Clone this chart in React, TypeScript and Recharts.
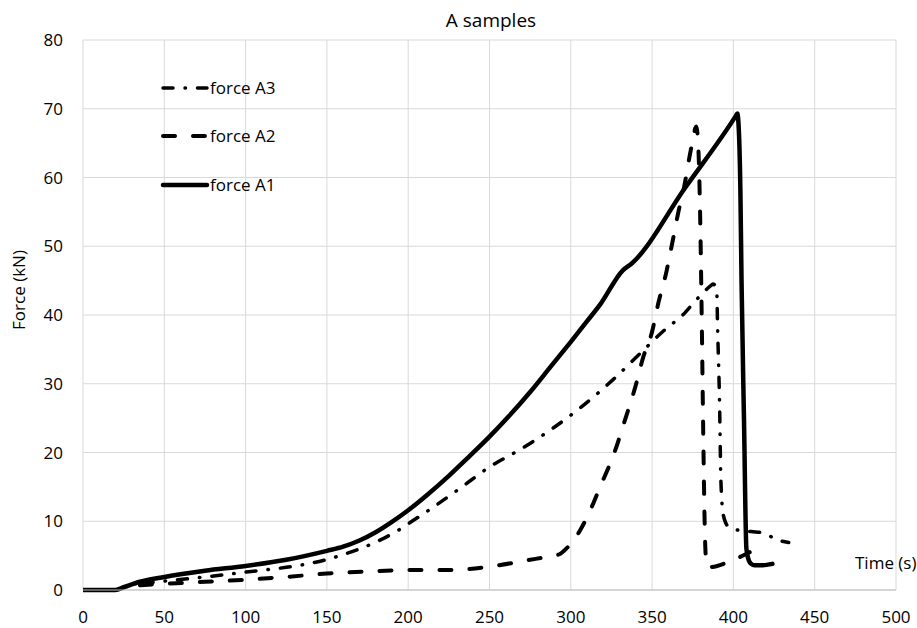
import { LineChart, Line, XAxis, YAxis, CartesianGrid } from 'recharts';

const timeTicks = [0, 50, 100, 150, 200, 250, 300, 350, 400, 450, 500];
const forceTicks = [0, 10, 20, 30, 40, 50, 60, 70, 80];

// force A1 (solid)
const a1Time = [0, 20, 25, 35, 50, 75, 100, 125, 150, 160, 170, 180, 190, 200, 212, 225, 237, 250, 262, 275, 287, 300, 310, 318, 332, 337.5, 370, 401.6, 402.4, 403.5, 404.3, 405, 406.5, 408, 409.5, 411, 413, 418, 424];
const a1Force = [0, 0, 0.4, 1.2, 1.9, 2.8, 3.5, 4.4, 5.7, 6.3, 7.2, 8.4, 9.9, 11.6, 13.9, 16.6, 19.3, 22.3, 25.3, 28.8, 32.3, 36.1, 39.1, 41.5, 46.5, 47.5, 58.4, 69.0, 69.3, 66, 58, 45, 25, 6, 4.3, 3.8, 3.6, 3.6, 3.8];

// force A2 (dashed)
const a2Time = [35, 50, 75, 100, 125, 150, 175, 200, 225, 250, 275, 285, 293, 298, 302, 306, 310, 314, 318, 323, 327, 333, 339.5, 344.6, 349.7, 353.8, 359, 362, 366, 370, 373, 375.5, 376.6, 377.2, 378.5, 379.5, 380.5, 381.5, 382.3, 383, 384.5, 390, 396, 404, 410];
const a2Force = [0.7, 0.9, 1.2, 1.5, 1.9, 2.4, 2.7, 2.9, 2.9, 3.4, 4.4, 4.8, 5.2, 6.2, 7.3, 8.8, 10.6, 12.7, 15.0, 17.7, 20.1, 24.5, 29.4, 33.9, 37.3, 41.7, 46.5, 50, 54.8, 59, 63, 66, 67.2, 67.4, 64, 55, 40, 22, 10, 5, 3.3, 3.5, 4.0, 4.8, 5.5];

// force A3 (dash-dot)
const a3Time = [37, 50, 75, 100, 125, 133.5, 151, 162, 172.6, 183, 193.3, 203, 212.6, 231.3, 250, 270, 289.4, 307.9, 326, 342.6, 359.5, 368, 376.4, 382, 386.8, 387.5, 389.7, 390.3, 391.5, 392.3, 393.8, 397, 403, 411, 419, 425, 434];
const a3Force = [1.0, 1.3, 1.9, 2.6, 3.3, 3.6, 4.5, 5.3, 6.2, 7.3, 8.6, 10.1, 11.6, 14.7, 17.9, 20.6, 23.6, 26.9, 30.6, 34.4, 38.2, 39.8, 42.0, 43.4, 44.4, 44.5, 43.8, 38, 27, 16, 10.9, 9.2, 8.7, 8.5, 8.3, 7.5, 6.9];

const toPoints = (t: number[], f: number[]) => t.map((x, i) => ({ t: x, f: f[i] }));

const FONT = '"Open Sans", sans-serif';

const legendItems = [
  { name: 'force A3', dash: '10 12 0.5 12', width: 3.5, top: 88 },
  { name: 'force A2', dash: '12 18', width: 4, top: 136 },
  { name: 'force A1', dash: undefined, width: 4.5, top: 185 },
];

const App = () => {
  return (
    <div style={{ position: 'absolute', left: 0, top: 0, width: 917, height: 628, background: '#fff', fontFamily: FONT }}>
      <LineChart
        width={917}
        height={628}
        margin={{ top: 40, right: 21, left: 23, bottom: 8 }}
      >
        <CartesianGrid stroke="#d9d9d9" strokeWidth={1} />
        <XAxis
          dataKey="t"
          type="number"
          domain={[0, 500]}
          ticks={timeTicks}
          allowDataOverflow
          height={30}
          tickSize={0}
          tickMargin={21}
          stroke="#bfbfbf"
          tick={{ fill: '#000', fontSize: 17, fontFamily: FONT }}
        />
        <YAxis
          type="number"
          domain={[0, 80]}
          ticks={forceTicks}
          width={60}
          tickSize={0}
          tickMargin={20}
          axisLine={false}
          tick={{ fill: '#000', fontSize: 17, fontFamily: FONT }}
        />
        <Line
          data={toPoints(a3Time, a3Force)}
          dataKey="f"
          type="monotone"
          stroke="#000"
          strokeWidth={3.5}
          strokeDasharray="10 12 0.5 12"
          strokeLinecap="round"
          strokeLinejoin="round"
          dot={false}
          activeDot={false}
          isAnimationActive={false}
        />
        <Line
          data={toPoints(a2Time, a2Force)}
          dataKey="f"
          type="monotone"
          stroke="#000"
          strokeWidth={4}
          strokeDasharray="12 18"
          strokeLinecap="round"
          strokeLinejoin="round"
          dot={false}
          activeDot={false}
          isAnimationActive={false}
        />
        <Line
          data={toPoints(a1Time, a1Force)}
          dataKey="f"
          type="monotone"
          stroke="#000"
          strokeWidth={4.5}
          strokeLinecap="round"
          strokeLinejoin="round"
          dot={false}
          activeDot={false}
          isAnimationActive={false}
        />
      </LineChart>

      <div style={{ position: 'absolute', left: 0, top: 8, width: 982, textAlign: 'center', fontSize: 19, lineHeight: '24px', color: '#000' }}>
        A samples
      </div>

      <div style={{ position: 'absolute', left: 855, top: 551, fontSize: 17, lineHeight: '24px', whiteSpace: 'nowrap', color: '#000' }}>
        Time (s)
      </div>

      <div
        style={{
          position: 'absolute',
          left: 19,
          top: 290,
          transform: 'translate(-50%, -50%) rotate(-90deg)',
          fontSize: 17,
          lineHeight: '24px',
          whiteSpace: 'nowrap',
          color: '#000',
        }}
      >
        Force (kN)
      </div>

      {legendItems.map((item) => (
        <div key={item.name} style={{ position: 'absolute', left: 160, top: item.top - 12, height: 24, display: 'flex', alignItems: 'center' }}>
          <svg width={50} height={24}>
            <line
              x1={3}
              x2={47}
              y1={12}
              y2={12}
              stroke="#000"
              strokeWidth={item.width}
              strokeDasharray={item.dash}
              strokeLinecap="round"
            />
          </svg>
          <span style={{ fontSize: 17, lineHeight: '24px', color: '#000' }}>{item.name}</span>
        </div>
      ))}
    </div>
  );
};

export default App;
